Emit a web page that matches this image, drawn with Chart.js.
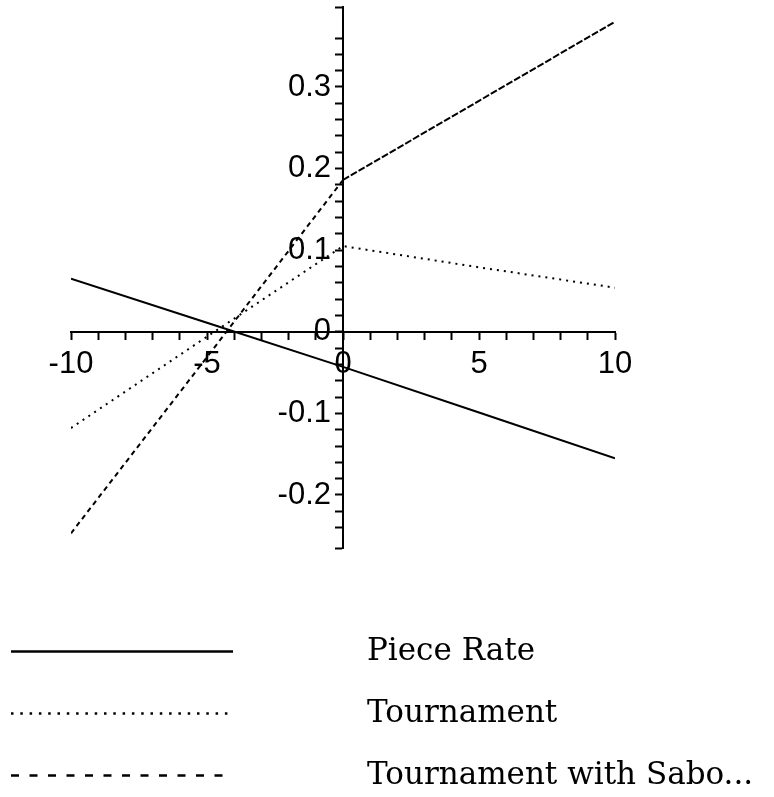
<!DOCTYPE html>
<html>
<head>
<meta charset="utf-8">
<script src="https://cdn.jsdelivr.net/npm/chart.js@4.4.1/dist/chart.umd.min.js"></script>
<style>
  html, body { margin: 0; padding: 0; background: #ffffff; }
  #wrap { position: relative; width: 774px; height: 797px; }
</style>
</head>
<body>
<div id="wrap"><canvas id="c" width="774" height="797"></canvas></div>
<script>
// ---- data ----
const xValues = [-10, -5, 0, 5, 10];
const seriesNames = ['Piece Rate', 'Tournament', 'Tournament with Sabo...'];
const pieceRate = [0.065, 0.011, -0.043, -0.099, -0.155];
const tournament = [-0.118, -0.006, 0.105, 0.079, 0.054];
const sabotage = [-0.247, -0.031, 0.186, 0.283, 0.38];
const xTickLabels = [-10, -5, 0, 5, 10];
const yTickLabels = [-0.2, -0.1, 0, 0.1, 0.2, 0.3];

function pts(ys) { return xValues.map((x, i) => ({ x: x, y: ys[i] })); }

const AXIS_FONT = { family: '"Liberation Sans", Arial, sans-serif', size: 31 };

const legendPlugin = {
  id: 'sideLegend',
  afterDraw(chart) {
    const ctx = chart.ctx;
    const rows = [651, 713, 775];
    chart.data.datasets.forEach((ds, i) => {
      const y = rows[i] + 0.5;
      ctx.save();
      ctx.strokeStyle = '#000';
      ctx.lineWidth = 2.5;
      ctx.setLineDash(ds.legendDash || []);
      ctx.beginPath();
      ctx.moveTo(11, y);
      ctx.lineTo(233, y);
      ctx.stroke();
      ctx.restore();
      ctx.save();
      ctx.fillStyle = '#000';
      ctx.font = '31px "DejaVu Serif", serif';
      ctx.textBaseline = 'middle';
      ctx.textAlign = 'left';
      ctx.fillText(ds.label, 367, rows[i] + 1);
      ctx.restore();
    });
  }
};

function isLabelled(v, list) {
  return list.some(t => Math.abs(t - v) < 1e-6);
}

// shift the y-axis labels left of the tick marks (axis is positioned at x = 0)
function shiftYLabels(s) {
  if (s._shiftPatched) return;
  const orig = s._computeLabelItems.bind(s);
  s._computeLabelItems = (ca) => orig(ca).map(it => {
    const t = it.options.translation;
    it.options.translation = [t[0] - 12, t[1]];
    return it;
  });
  s._shiftPatched = true;
}

new Chart(document.getElementById('c'), {
  type: 'line',
  data: {
    datasets: [
      { label: seriesNames[0], data: pts(pieceRate), borderColor: '#000', borderWidth: 2,
        borderDash: [], legendDash: [], pointRadius: 0, tension: 0 },
      { label: seriesNames[1], data: pts(tournament), borderColor: '#000', borderWidth: 2,
        borderDash: [2, 5], legendDash: [2.5, 6.8], pointRadius: 0, tension: 0 },
      { label: seriesNames[2], data: pts(sabotage), borderColor: '#000', borderWidth: 2,
        borderDash: [5, 4], legendDash: [8, 10.5], pointRadius: 0, tension: 0,
        segment: { borderDash: (c) => c.p0.parsed.x >= 0 ? [7, 2] : undefined } }
    ]
  },
  options: {
    responsive: false,
    animation: false,
    devicePixelRatio: 1,
    layout: { padding: { left: 71, right: 159, top: 7, bottom: 249 } },
    plugins: { legend: { display: false }, tooltip: { enabled: false } },
    scales: {
      x: {
        type: 'linear',
        position: { y: 0 },
        min: -10, max: 10,
        afterFit(s) { s.paddingLeft = 0; s.paddingRight = 0; s.paddingTop = 0; s.paddingBottom = 0; },
        ticks: {
          stepSize: 1, autoSkip: false, maxRotation: 0, color: '#000', font: AXIS_FONT, padding: 7,
          callback: (v) => isLabelled(v, xTickLabels) ? String(Math.round(v)) : ''
        },
        grid: { drawOnChartArea: false, drawTicks: true, tickLength: 7, tickWidth: 2, color: '#000' },
        border: { display: true, color: '#000', width: 2 }
      },
      y: {
        type: 'linear',
        position: { x: 0 },
        min: -0.265, max: 0.398,
        afterFit(s) { s.paddingLeft = 0; s.paddingRight = 0; s.paddingTop = 0; s.paddingBottom = 0; },
        afterUpdate: shiftYLabels,
        ticks: {
          stepSize: 0.02, autoSkip: false, color: '#000', font: AXIS_FONT, padding: 3,
          callback: (v) => {
            if (!isLabelled(v, yTickLabels)) return '';
            const r = Math.round(v * 10) / 10;
            return r === 0 ? '0' : r.toFixed(1);
          }
        },
        grid: { drawOnChartArea: false, drawTicks: true, tickLength: 7, tickWidth: 2, color: '#000' },
        border: { display: true, color: '#000', width: 2 }
      }
    }
  },
  plugins: [legendPlugin]
});
</script>
</body>
</html>
